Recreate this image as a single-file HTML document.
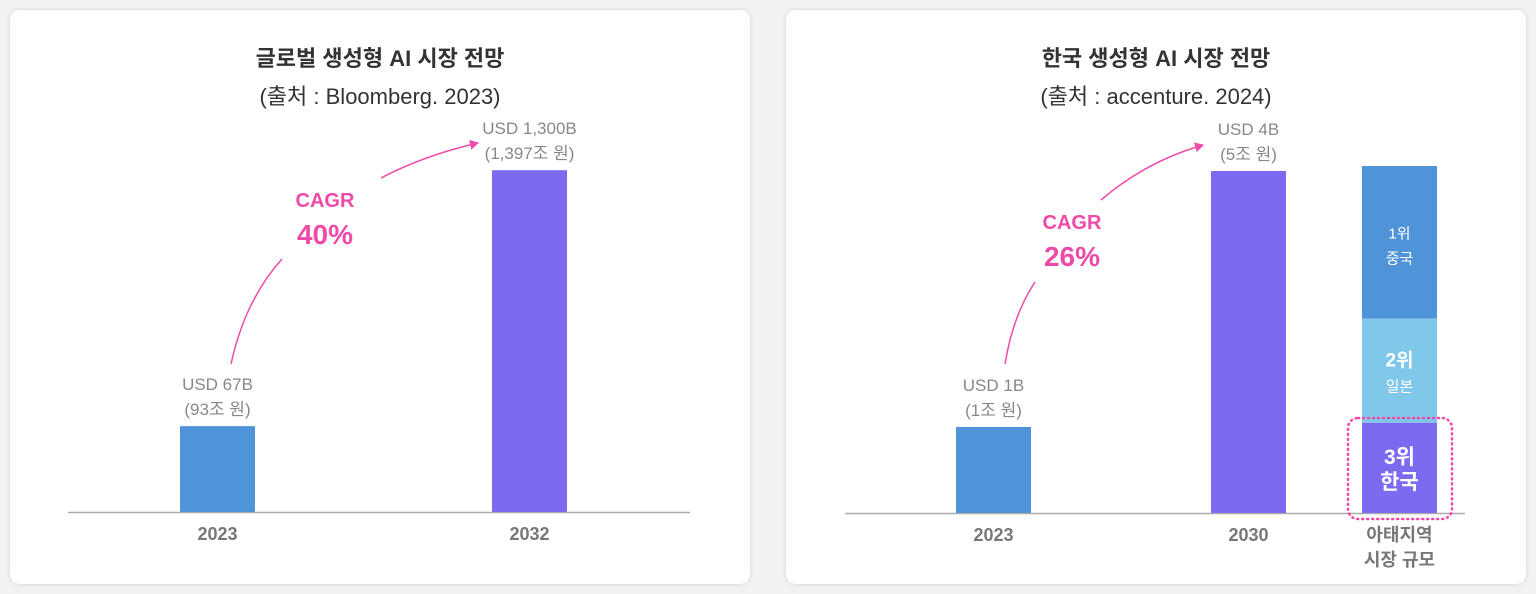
<!DOCTYPE html>
<html><head><meta charset="utf-8"><style>
body{margin:0;width:1536px;height:594px;background:#f1f1f1;font-family:"Liberation Sans","Noto Sans CJK KR",sans-serif;overflow:hidden}
.card{position:absolute;top:10px;width:740px;height:574px;background:#fff;border-radius:10px;box-shadow:0 0 4px rgba(0,0,0,.12)}
svg{position:absolute;left:0;top:0}
</style></head><body>
<div class="card" style="left:10px"></div>
<div class="card" style="left:786px"></div>
<svg id="s" width="1536" height="594" font-family="Liberation Sans, Noto Sans CJK KR, sans-serif">
<defs><marker id="ah" markerWidth="10" markerHeight="10" refX="8" refY="5" orient="auto" markerUnits="userSpaceOnUse"><path d="M0,0 L9,5 L0,10 Z" fill="#f04aa8"/></marker></defs>
<text x="380" y="66" text-anchor="middle" font-size="22" font-weight="bold" fill="#333">글로벌 생성형 AI 시장 전망</text>
<text x="380" y="104" text-anchor="middle" font-size="22" fill="#333">(출처 : Bloomberg. 2023)</text>
<text x="1156" y="66" text-anchor="middle" font-size="22" font-weight="bold" fill="#333">한국 생성형 AI 시장 전망</text>
<text x="1156" y="104" text-anchor="middle" font-size="22" fill="#333">(출처 : accenture. 2024)</text>
<line x1="68" y1="512.5" x2="690" y2="512.5" stroke="#aaa" stroke-width="1.5"/>
<line x1="845" y1="513.5" x2="1465" y2="513.5" stroke="#aaa" stroke-width="1.5"/>
<path d="M231,364 Q245,300 282,259" fill="none" stroke="#f04aa8" stroke-width="1.5"/>
<path d="M381,178 Q425,155 478,143" fill="none" stroke="#f04aa8" stroke-width="1.5" marker-end="url(#ah)"/>
<text x="325" y="207" text-anchor="middle" font-size="20" font-weight="bold" fill="#f04aa8">CAGR</text>
<text x="325" y="244" text-anchor="middle" font-size="28" font-weight="bold" fill="#f04aa8">40%</text>
<path d="M1005,364 Q1013,315 1035,282" fill="none" stroke="#f04aa8" stroke-width="1.5"/>
<path d="M1101,200 Q1145,162 1203,145" fill="none" stroke="#f04aa8" stroke-width="1.5" marker-end="url(#ah)"/>
<text x="1072" y="229" text-anchor="middle" font-size="20" font-weight="bold" fill="#f04aa8">CAGR</text>
<text x="1072" y="266" text-anchor="middle" font-size="28" font-weight="bold" fill="#f04aa8">26%</text>
<g id="g"></g>
</svg>
<script>
const leftCats=["2023","2032"];
const leftVals=[67,1300];
const leftLab1=["USD 67B","USD 1,300B"];
const leftLab2=["(93조 원)","(1,397조 원)"];
const rightCats=["2023","2030"];
const rightVals=[1,4];
const rightLab1=["USD 1B","USD 4B"];
const rightLab2=["(1조 원)","(5조 원)"];
const stackNames=["중국","일본","한국"];
const stackRanks=["1위","2위","3위"];
const stackShares=[44,30,26];
const NS="http://www.w3.org/2000/svg",g=document.getElementById('g');
function el(t,a,txt){const e=document.createElementNS(NS,t);for(const k in a)e.setAttribute(k,a[k]);if(txt!=null)e.textContent=txt;g.appendChild(e);return e;}
const leftH=v=>86.3*Math.log(v)-277, rightH=v=>184.7*Math.log(v)+86;
function chart(cats,vals,l1,l2,xs,base,hf,colors,pfx){
 cats.forEach((c,i)=>{const h=hf(vals[i]),x=xs[i];
  const r=el('rect',{x:x,y:base-h,width:75,height:h,fill:colors[i]});
  
  
  const a=el('text',{x:x+37.5,y:base-h-36,'text-anchor':'middle','font-size':17,fill:'#888'},l1[i]);
  
  
  const b=el('text',{x:x+37.5,y:base-h-11,'text-anchor':'middle','font-size':17,fill:'#888'},l2[i]);
  
  
  const t=el('text',{x:x+37.5,y:base+28,'text-anchor':'middle','font-size':18,'font-weight':'bold',fill:'#777'},c);
  
  
 });
}
chart(leftCats,leftVals,leftLab1,leftLab2,[180,492],512,leftH,['#4f94d9','#7c6af0'],'left');
chart(rightCats,rightVals,rightLab1,rightLab2,[956,1211],513,rightH,['#4f94d9','#7c6af0'],'right');
const tot=stackShares.reduce((a,b)=>a+b,0),stH=347,sc=['#4f94d9','#80c8ea','#7c6af0'];
let y=166;
stackShares.forEach((v,i)=>{const h=v/tot*stH;
 const r=el('rect',{x:1362,y:y,width:75,height:h,fill:sc[i]});
 
 
 const big=i>0;
 const t1=el('text',{x:1399.5,y:y+h/2-4,'text-anchor':'middle','font-size':big?(i==2?21:19):15,'font-weight':big?'bold':'normal',fill:'#fff'},stackRanks[i]);
 
 
 const t2=el('text',{x:1399.5,y:y+h/2+21,'text-anchor':'middle','font-size':i==2?21:15,'font-weight':i==2?'bold':'normal',fill:'#fff'},stackNames[i]);
 
 
 y+=h;
});
const hl=el('rect',{x:1348,y:418,width:104,height:101,rx:10,fill:'none',stroke:'#f04aa8','stroke-width':2.5,'stroke-dasharray':'1 4','stroke-linecap':'round'});


[['아태지역',541],['시장 규모',566]].forEach((a,i)=>{const t=el('text',{x:1399.5,y:a[1],'text-anchor':'middle','font-size':18,'font-weight':'bold',fill:'#777'},a[0]);
 
 });
</script>
</body></html>
